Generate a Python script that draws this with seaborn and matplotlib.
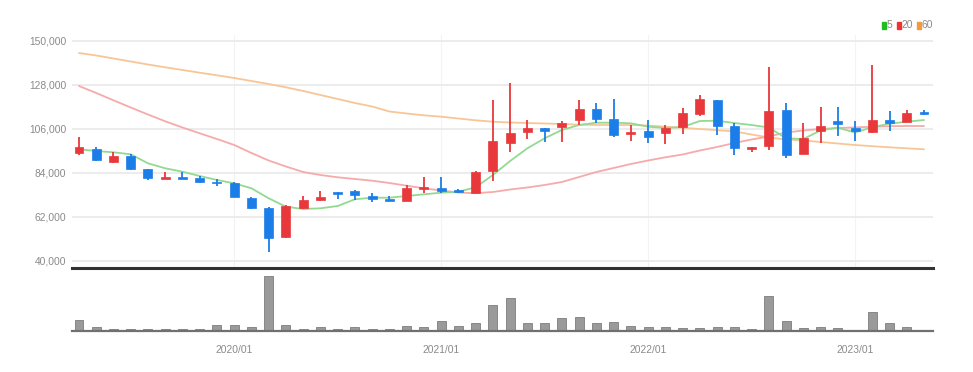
import numpy as np
import pandas as pd
import matplotlib
matplotlib.use("Agg")
import matplotlib.pyplot as plt
import seaborn as sns
from matplotlib.patches import Rectangle
from matplotlib.ticker import FuncFormatter, FixedLocator

# ---------------- data ----------------
months = pd.period_range("2019-04", periods=50, freq="M")

open_ = [93600, 95750, 89100, 92250, 85600, 80750, 81600, 81400, 79400, 78600,
         71400, 66100, 51600, 66100, 70250, 74100, 74750, 72250, 70600, 69900,
         75600, 76400, 75100, 73900, 84900, 98900, 104100, 106100, 106900, 110250,
         115750, 110600, 103100, 104750, 103600, 106900, 113250, 120250, 107250, 95900,
         97250, 115250, 93250, 104900, 109750, 106100, 104400, 110100, 109400, 114400]
high = [101900, 96600, 94250, 93100, 85750, 84400, 84400, 82250, 80900, 79250,
        71600, 66900, 67600, 72250, 74750, 74400, 75250, 73900, 72250, 77750,
        81900, 81900, 75600, 84600, 120250, 128900, 110250, 106400, 109900, 120250,
        118600, 120600, 107750, 110250, 107750, 116400, 122750, 120250, 108900, 96600,
        136600, 118900, 108600, 116900, 116900, 109750, 137750, 114900, 115250, 115250]
low = [92750, 89600, 89000, 85400, 80250, 80750, 80900, 79000, 77400, 71600,
       65750, 44400, 51400, 65750, 70000, 70600, 70250, 69400, 69900, 69900,
       73600, 73600, 73600, 73750, 79900, 94400, 100600, 99400, 99400, 107750,
       108600, 101900, 99750, 98600, 98100, 103250, 112250, 102750, 92750, 94400,
       95250, 91100, 93250, 98600, 102250, 99900, 103600, 104750, 109400, 112750]
close = [96600, 90100, 92250, 85900, 81100, 81900, 80900, 79250, 78600, 71600,
         66400, 51100, 67400, 70250, 71600, 73400, 72750, 70900, 69900, 76400,
         76900, 74750, 74250, 84400, 99900, 103900, 106100, 104750, 108600, 115750,
         110750, 102750, 104400, 101900, 106400, 113600, 120600, 107400, 96100, 96600,
         114900, 92750, 101100, 107400, 108100, 104900, 110250, 108600, 113600, 113250]

ma5 = [95600, 94750, 94100, 93100, 88600, 86100, 84400, 82250, 80250, 78600,
       76100, 71100, 66900, 65750, 66100, 67250, 70600, 71400, 71400, 72250,
       73100, 73900, 74400, 76600, 82750, 89750, 96100, 101100, 105250, 107750,
       108900, 108900, 108600, 106900, 106250, 106750, 109750, 109900, 108750, 107750,
       106500, 101100, 100750, 105000, 106400, 104000, 106650, 108400, 109400, 110250]
ma20 = [127250, 123750, 120100, 116500, 113000, 109600, 106500, 103600, 100750, 97750,
        93750, 90000, 87000, 84250, 82750, 81600, 80750, 79900, 78750, 77400,
        76100, 75000, 74000, 73650, 74250, 75500, 76500, 77750, 79250, 81750,
        84250, 86250, 88250, 90000, 91600, 93000, 95000, 96750, 98750, 100500,
        102000, 104000, 105000, 105750, 106250, 106550, 106850, 107150, 107250, 107250]
ma60 = [143750, 142500, 141000, 139500, 138000, 136600, 135250, 133900, 132600, 131250,
        129750, 128250, 126600, 124750, 122750, 120750, 118750, 117000, 114500, 113500,
        112600, 111900, 111000, 110100, 109400, 109000, 108750, 108500, 108250, 107900,
        107750, 107750, 107750, 107500, 106900, 106350, 105750, 105150, 104550, 103000,
        101500, 100500, 100000, 99250, 98500, 97750, 97150, 96600, 96100, 95600]

volume = [107000, 40000, 20000, 23000, 23000, 20000, 23000, 23000, 60000, 60000,
          43000, 550000, 60000, 23000, 43000, 20000, 43000, 23000, 23000, 53000,
          40000, 103000, 53000, 80000, 263000, 327000, 83000, 77000, 127000, 143000,
          77000, 93000, 47000, 43000, 43000, 30000, 30000, 43000, 43000, 17000,
          353000, 100000, 27000, 43000, 27000, 13000, 193000, 77000, 43000, 13000]

y_ticks = [40000, 62000, 84000, 106000, 128000, 150000]
legend_labels = ["5", "20", "60"]

# ---------------- style ----------------
sns.set_theme(style="white")
plt.rcParams["font.family"] = ["Liberation Sans Narrow", "Liberation Sans", "DejaVu Sans"]

UP = "#e8383c"
DOWN = "#1b7ee8"
MA_COLORS = ["#92da92", "#f6aaaa", "#f8c696"]
LEG_COLORS = ["#22bb22", "#ee3333", "#f39a3a"]
TXT = "#8a8a8a"
GRID = "#ebebeb"

W, H = 973, 372
fig = plt.figure(figsize=(W / 100, H / 100), dpi=100)

left, right = 72, 933
ax = fig.add_axes([left / W, 1 - 268 / H, (right - left) / W, (268 - 35) / H])
axv = fig.add_axes([left / W, 1 - 331 / H, (right - left) / W, (331 - 270) / H])

df = pd.DataFrame({"idx": np.arange(len(months)), "open": open_, "high": high,
                   "low": low, "close": close, "ma5": ma5, "ma20": ma20,
                   "ma60": ma60, "volume": volume})

# moving averages
for col, c in zip(["ma60", "ma20", "ma5"], [MA_COLORS[2], MA_COLORS[1], MA_COLORS[0]]):
    sns.lineplot(data=df, x="idx", y=col, ax=ax, color=c, linewidth=1.3, zorder=2)

# candles
up = df["close"] >= df["open"]
colors = np.where(up, UP, DOWN)
ax.vlines(df["idx"], df["low"], df["high"], colors=colors, linewidth=1.3, zorder=3)
body_bottom = np.minimum(df["open"], df["close"])
body_h = np.maximum(np.abs(df["close"] - df["open"]), 700)
ax.bar(df["idx"], body_h, bottom=body_bottom, width=0.52, color=colors,
       edgecolor=colors, linewidth=0.5, zorder=4)

x0 = -(79 - left) / ((924 - 79) / 49)
x1 = 49 + (right - 924) / ((924 - 79) / 49)
year_idx = [i for i, m in enumerate(months) if m.month == 1]
year_lbl = [f"{months[i].year}/01" for i in year_idx]

ax.set_xlim(x0, x1)
ax.set_ylim(36250, 152750)
ax.yaxis.set_major_locator(FixedLocator(y_ticks))
ax.yaxis.set_major_formatter(FuncFormatter(lambda v, p: f"{int(v):,}"))
ax.set_xticks(year_idx)
ax.set_xticklabels([])
ax.grid(True, axis="y", color=GRID, linewidth=1.3)
ax.grid(True, axis="x", color="#f3f3f3", linewidth=0.8)
ax.set_axisbelow(True)
ax.tick_params(axis="both", length=0, labelsize=7.4, labelcolor=TXT, pad=4)
ax.set_xlabel("")
ax.set_ylabel("")
for s in ["top", "right", "left"]:
    ax.spines[s].set_visible(False)
ax.spines["bottom"].set_color("#333333")
ax.spines["bottom"].set_linewidth(2.2)
ax.patch.set_alpha(0)

# volume
sns.barplot(data=df, x="idx", y="volume", ax=axv, color="#9a9a9a", width=0.52,
            edgecolor="#7d7d7d", linewidth=0.6, saturation=1)
axv.set_xlim(x0, x1)
axv.set_ylim(0, 610000)
axv.set_yticks([])
axv.set_xticks(year_idx)
axv.set_xticklabels(year_lbl)
axv.tick_params(axis="x", length=3, width=1, color="#555555", labelsize=7.4,
                labelcolor=TXT, pad=7)
axv.set_xlabel("")
axv.set_ylabel("")
for s in ["top", "right", "left"]:
    axv.spines[s].set_visible(False)
axv.spines["bottom"].set_color("#707070")
axv.spines["bottom"].set_linewidth(1.6)
axv.patch.set_alpha(0)

# legend (top right)
leg_x = [882, 897, 917]
txt_x = [887, 902, 922]
for lx, tx, c, lab in zip(leg_x, txt_x, LEG_COLORS, legend_labels):
    fig.patches.append(Rectangle((lx / W, 1 - 29 / H), 4 / W, 7 / H, color=c,
                                 transform=fig.transFigure, figure=fig))
    fig.text(tx / W, 1 - 25.5 / H, lab, color=TXT, fontsize=7.4, va="center", ha="left")

fig.savefig("out.png", dpi=100)
